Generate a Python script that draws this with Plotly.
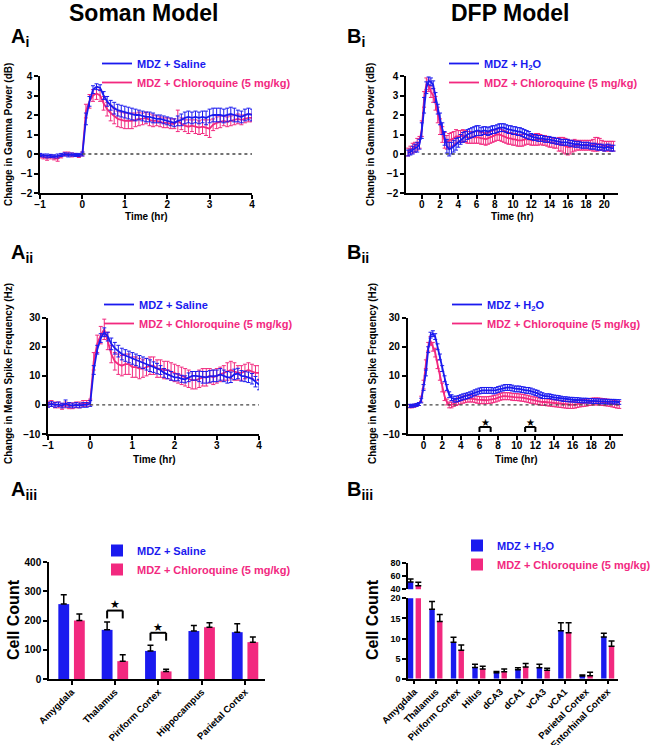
import plotly.graph_objects as go

# ---------------- data ----------------
soman_min = [-60, -55, -50, -45, -40, -35, -30, -25, -20, -15, -10, -5,
             0, 5, 10, 15, 20, 25, 30, 35, 40, 45, 50, 55,
             60, 65, 70, 75, 80, 85, 90, 95, 100, 105, 110, 115,
             120, 125, 130, 135, 140, 145, 150, 155, 160, 165, 170, 175,
             180, 185, 190, 195, 200, 205, 210, 215, 220, 225, 230, 235,
             240]

gamma_saline = [-0.05, -0.08, -0.10, -0.10, -0.12, -0.10, -0.05, -0.02, -0.05, -0.03, -0.05, -0.05,
                0.00, 1.80, 2.70, 3.30, 3.45, 3.40, 3.00, 2.70, 2.50, 2.35, 2.25, 2.20,
                2.15, 2.10, 2.05, 2.00, 2.00, 1.95, 1.90, 1.90, 1.85, 1.80, 1.80, 1.75,
                1.70, 1.65, 1.60, 1.70, 1.75, 1.85, 1.90, 1.85, 1.90, 1.85, 1.90, 1.85,
                1.95, 2.00, 2.00, 2.00, 1.95, 2.00, 2.05, 2.00, 1.95, 1.90, 2.00, 2.05,
                2.00]
gamma_saline_err = [0.08, 0.08, 0.10, 0.08, 0.08, 0.10, 0.08, 0.08, 0.10, 0.08, 0.08, 0.08,
                    0.10, 0.30, 0.25, 0.20, 0.15, 0.15, 0.20, 0.25, 0.25, 0.30, 0.30, 0.30,
                    0.30, 0.30, 0.30, 0.30, 0.25, 0.25, 0.25, 0.25, 0.25, 0.20, 0.20, 0.20,
                    0.20, 0.20, 0.20, 0.25, 0.30, 0.30, 0.30, 0.30, 0.30, 0.30, 0.30, 0.35,
                    0.35, 0.35, 0.35, 0.35, 0.35, 0.35, 0.35, 0.35, 0.30, 0.30, 0.30, 0.30,
                    0.30]
gamma_chloro = [-0.10, -0.15, -0.20, -0.15, -0.20, -0.25, -0.10, 0.00, 0.00, -0.05, -0.05, -0.10,
                0.00, 2.20, 2.70, 3.00, 3.10, 3.00, 2.60, 2.30, 2.10, 1.95, 1.80, 1.75,
                1.70, 1.70, 1.70, 1.75, 1.80, 1.80, 1.85, 1.75, 1.70, 1.70, 1.65, 1.60,
                1.60, 1.55, 1.55, 1.70, 1.55, 1.45, 1.40, 1.45, 1.40, 1.35, 1.40, 1.35,
                1.30, 1.50, 1.60, 1.65, 1.70, 1.65, 1.70, 1.75, 1.80, 1.75, 1.80, 1.85,
                1.85]
gamma_chloro_err = [0.10, 0.10, 0.12, 0.10, 0.10, 0.12, 0.10, 0.10, 0.10, 0.10, 0.08, 0.08,
                    0.10, 0.35, 0.35, 0.30, 0.30, 0.30, 0.35, 0.35, 0.40, 0.40, 0.40, 0.40,
                    0.40, 0.40, 0.40, 0.35, 0.35, 0.30, 0.30, 0.30, 0.30, 0.25, 0.25, 0.25,
                    0.25, 0.25, 0.25, 0.55, 0.30, 0.30, 0.35, 0.30, 0.35, 0.35, 0.35, 0.40,
                    0.45, 0.30, 0.30, 0.30, 0.25, 0.25, 0.25, 0.25, 0.25, 0.25, 0.20, 0.20,
                    0.20]

spike_saline = [0.0, 0.3, 0.0, 0.2, -0.2, 0.5, 0.0, -0.2, 0.0, -0.2, 0.0, 0.0,
                0.5, 12.0, 19.0, 23.0, 25.0, 23.5, 21.0, 19.5, 18.5, 17.5, 17.0, 16.5,
                16.0, 15.5, 15.0, 14.5, 14.0, 13.5, 13.0, 12.5, 12.0, 11.0, 10.5, 10.0,
                9.5, 9.5, 9.0, 8.8, 9.5, 10.0, 10.0, 9.8, 9.5, 9.5, 9.8, 10.0,
                10.0, 10.5, 10.0, 9.5, 9.5, 10.5, 10.8, 10.0, 9.8, 9.5, 9.0, 8.0,
                7.0]
spike_saline_err = [0.8, 0.8, 0.8, 0.8, 0.8, 1.2, 0.8, 0.8, 0.8, 0.8, 0.8, 0.8,
                    1.0, 1.5, 1.5, 1.5, 1.5, 1.5, 2.0, 2.0, 2.0, 2.0, 2.0, 2.0,
                    2.0, 2.0, 2.0, 2.0, 2.0, 2.0, 1.8, 1.8, 1.5, 1.5, 1.5, 1.5,
                    1.2, 1.2, 1.2, 1.2, 1.5, 1.5, 1.5, 1.8, 2.0, 2.0, 2.0, 2.0,
                    2.0, 2.0, 2.0, 2.0, 1.8, 1.8, 1.8, 1.8, 1.8, 1.8, 1.8, 1.8,
                    1.8]
spike_chloro = [0.3, 0.5, 0.0, 0.0, -0.5, 0.0, -0.3, -0.3, 0.0, 0.0, 0.5, 0.5,
                1.0, 15.0, 21.0, 24.0, 26.0, 22.0, 17.5, 15.0, 14.0, 13.5, 14.0, 14.0,
                13.0, 13.0, 12.5, 12.5, 13.0, 13.5, 13.5, 12.5, 12.5, 12.0, 12.0, 11.5,
                11.0, 10.5, 10.0, 9.5, 9.0, 8.5, 8.5, 9.0, 9.5, 9.5, 10.0, 9.5,
                10.0, 10.5, 11.0, 11.5, 12.0, 11.5, 11.0, 11.0, 11.5, 12.0, 11.5, 11.0,
                11.0]
spike_chloro_err = [1.0, 1.0, 1.0, 1.0, 1.0, 1.0, 1.0, 1.0, 1.0, 1.0, 1.0, 1.0,
                    1.0, 3.0, 3.0, 3.0, 3.5, 3.0, 3.0, 3.0, 3.5, 3.5, 3.5, 3.5,
                    3.5, 3.5, 3.5, 3.0, 3.0, 3.0, 3.0, 3.0, 3.0, 3.0, 3.0, 3.0,
                    3.0, 3.0, 3.0, 3.0, 3.0, 3.0, 3.0, 3.0, 3.0, 3.0, 2.5, 2.5,
                    2.5, 2.5, 2.5, 3.0, 3.0, 3.0, 2.5, 2.5, 2.5, 2.5, 2.5, 2.5,
                    2.5]

dfp_hr = [-1.5, -1.25, -1, -0.75, -0.5, -0.25, 0, 0.25, 0.5, 0.75,
          1, 1.25, 1.5, 1.75, 2, 2.25, 2.5, 2.75, 3, 3.25,
          3.5, 3.75, 4, 4.25, 4.5, 4.75, 5, 5.25, 5.5, 5.75,
          6, 6.25, 6.5, 6.75, 7, 7.25, 7.5, 7.75, 8, 8.25,
          8.5, 8.75, 9, 9.25, 9.5, 9.75, 10, 10.25, 10.5, 10.75,
          11, 11.25, 11.5, 11.75, 12, 12.25, 12.5, 12.75, 13, 13.25,
          13.5, 13.75, 14, 14.25, 14.5, 14.75, 15, 15.25, 15.5, 15.75,
          16, 16.25, 16.5, 16.75, 17, 17.25, 17.5, 17.75, 18, 18.25,
          18.5, 18.75, 19, 19.25, 19.5, 19.75, 20, 20.25, 20.5, 20.75,
          21]

gamma_h2o = [0.05, 0.10, 0.20, 0.30, 0.35, 0.50, 1.20, 2.50, 3.40, 3.75,
             3.70, 3.55, 2.90, 2.30, 1.80, 1.30, 0.80, 0.40, 0.25, 0.30,
             0.40, 0.50, 0.60, 0.75, 0.85, 0.90, 1.00, 1.05, 1.10, 1.15,
             1.20, 1.20, 1.15, 1.20, 1.20, 1.15, 1.20, 1.25, 1.25, 1.30,
             1.35, 1.35, 1.35, 1.30, 1.25, 1.25, 1.20, 1.20, 1.15, 1.15,
             1.10, 1.05, 1.00, 0.95, 0.90, 0.85, 0.85, 0.80, 0.80, 0.80,
             0.75, 0.75, 0.75, 0.70, 0.70, 0.65, 0.65, 0.60, 0.60, 0.60,
             0.60, 0.55, 0.55, 0.50, 0.50, 0.50, 0.45, 0.45, 0.45, 0.45,
             0.40, 0.40, 0.40, 0.35, 0.35, 0.35, 0.30, 0.35, 0.35, 0.30,
             0.30]
gamma_h2o_err = [0.15, 0.15, 0.20, 0.20, 0.25, 0.25, 0.40, 0.40, 0.30, 0.20,
                 0.20, 0.20, 0.25, 0.25, 0.30, 0.30, 0.35, 0.35, 0.35, 0.30,
                 0.30, 0.30, 0.25, 0.25, 0.25, 0.25, 0.25, 0.25, 0.25, 0.25,
                 0.25, 0.25, 0.20, 0.20, 0.20, 0.20, 0.20, 0.20, 0.20, 0.20,
                 0.20, 0.20, 0.20, 0.20, 0.20, 0.20, 0.20, 0.20, 0.20, 0.20,
                 0.20, 0.20, 0.20, 0.20, 0.15, 0.15, 0.15, 0.15, 0.15, 0.15,
                 0.15, 0.15, 0.15, 0.15, 0.15, 0.15, 0.15, 0.15, 0.15, 0.15,
                 0.15, 0.15, 0.15, 0.15, 0.15, 0.15, 0.15, 0.15, 0.15, 0.15,
                 0.15, 0.15, 0.15, 0.15, 0.15, 0.15, 0.15, 0.15, 0.15, 0.15,
                 0.15]
gamma_cq_dfp = [0.10, 0.20, 0.30, 0.35, 0.50, 0.60, 1.30, 2.80, 3.60, 3.50,
                3.20, 3.00, 2.60, 2.00, 1.40, 1.00, 0.70, 0.60, 0.70, 0.75,
                0.80, 0.90, 0.90, 0.90, 0.95, 0.90, 0.85, 0.85, 0.85, 0.85,
                0.85, 0.85, 0.80, 0.80, 0.75, 0.80, 0.85, 0.90, 0.95, 1.00,
                1.00, 0.95, 0.90, 0.85, 0.80, 0.80, 0.75, 0.75, 0.70, 0.70,
                0.70, 0.75, 0.75, 0.75, 0.70, 0.70, 0.75, 0.75, 0.75, 0.70,
                0.70, 0.65, 0.60, 0.60, 0.55, 0.55, 0.50, 0.50, 0.45, 0.40,
                0.35, 0.35, 0.40, 0.45, 0.45, 0.45, 0.45, 0.45, 0.45, 0.45,
                0.45, 0.45, 0.50, 0.50, 0.50, 0.45, 0.40, 0.40, 0.40, 0.40,
                0.40]
gamma_cq_dfp_err = [0.20, 0.20, 0.25, 0.25, 0.30, 0.30, 0.40, 0.40, 0.30, 0.30,
                    0.30, 0.35, 0.35, 0.40, 0.40, 0.40, 0.40, 0.35, 0.35, 0.35,
                    0.35, 0.35, 0.30, 0.30, 0.30, 0.30, 0.30, 0.30, 0.30, 0.30,
                    0.30, 0.30, 0.30, 0.30, 0.30, 0.30, 0.30, 0.30, 0.30, 0.30,
                    0.30, 0.30, 0.30, 0.30, 0.30, 0.30, 0.30, 0.30, 0.30, 0.30,
                    0.30, 0.30, 0.25, 0.25, 0.25, 0.25, 0.30, 0.30, 0.25, 0.25,
                    0.25, 0.25, 0.25, 0.25, 0.25, 0.25, 0.35, 0.35, 0.40, 0.40,
                    0.40, 0.35, 0.30, 0.30, 0.25, 0.25, 0.25, 0.25, 0.25, 0.25,
                    0.25, 0.30, 0.35, 0.35, 0.30, 0.25, 0.25, 0.25, 0.25, 0.25,
                    0.25]

spike_h2o = [-0.3, -0.3, -0.2, 0.0, 0.3, 1.5, 6.0, 11.0, 19.0, 24.0,
             24.5, 23.5, 20.0, 16.5, 12.5, 9.0, 6.0, 3.5, 2.5, 2.0,
             2.0, 2.2, 2.5, 2.8, 3.0, 3.2, 3.5, 3.8, 4.2, 4.5,
             4.8, 5.0, 5.0, 5.0, 5.0, 5.0, 4.8, 5.0, 5.3, 5.5,
             5.8, 6.0, 6.0, 6.0, 5.8, 5.5, 5.5, 5.5, 5.3, 5.2,
             5.0, 5.0, 4.8, 4.5, 4.2, 4.0, 3.5, 3.2, 3.0, 3.0,
             3.0, 2.8, 2.6, 2.5, 2.4, 2.2, 2.0, 2.0, 1.9, 1.8,
             1.8, 1.7, 1.7, 1.6, 1.5, 1.5, 1.5, 1.4, 1.4, 1.3,
             1.3, 1.3, 1.2, 1.2, 1.2, 1.1, 1.1, 1.1, 1.1, 1.0,
             1.0]
spike_h2o_err = [0.5, 0.5, 0.5, 0.5, 0.5, 0.8, 1.0, 1.0, 1.0, 1.0,
                 1.0, 1.0, 1.0, 1.0, 1.0, 1.0, 1.0, 1.0, 1.0, 1.0,
                 1.0, 1.0, 1.0, 1.0, 1.0, 1.0, 1.0, 1.0, 1.0, 1.0,
                 1.0, 1.0, 1.0, 1.0, 1.0, 1.0, 1.0, 1.0, 1.0, 1.0,
                 1.0, 1.0, 1.0, 1.0, 1.0, 1.0, 1.0, 1.0, 1.0, 1.0,
                 1.0, 1.0, 1.0, 1.0, 1.0, 1.0, 1.0, 1.0, 0.8, 0.8,
                 0.8, 0.8, 0.8, 0.8, 0.8, 0.8, 0.8, 0.8, 0.8, 0.8,
                 0.8, 0.8, 0.8, 0.8, 0.8, 0.8, 0.8, 0.8, 0.8, 0.8,
                 0.8, 0.8, 0.8, 0.8, 0.8, 0.8, 0.8, 0.8, 0.8, 0.8,
                 0.8]
spike_cq_dfp = [-0.5, -0.5, -0.3, 0.0, 0.3, 2.0, 7.0, 14.0, 20.0, 22.0,
                20.0, 18.0, 14.0, 10.0, 6.0, 3.0, 1.0, 0.0, 0.0, 0.5,
                1.0, 1.3, 1.5, 1.8, 2.0, 2.2, 2.2, 2.2, 2.0, 1.8,
                1.7, 1.6, 1.6, 1.6, 1.7, 1.8, 2.0, 2.2, 2.5, 2.8,
                3.0, 3.0, 3.0, 3.0, 2.8, 2.7, 2.7, 2.6, 2.5, 2.4,
                2.2, 2.0, 1.8, 1.6, 1.5, 1.3, 1.2, 1.0, 1.0, 0.9,
                0.8, 0.7, 0.6, 0.5, 0.4, 0.3, 0.2, 0.1, 0.0, 0.0,
                0.0, 0.1, 0.3, 0.5, 0.6, 0.7, 0.8, 1.0, 1.1, 1.2,
                1.2, 1.2, 1.1, 1.0, 0.9, 0.8, 0.7, 0.5, 0.3, 0.1,
                0.0]
spike_cq_dfp_err = [0.5, 0.5, 0.5, 0.5, 0.5, 1.0, 1.5, 1.5, 1.5, 1.5,
                    1.5, 1.5, 1.5, 1.5, 1.5, 1.5, 1.0, 1.0, 1.0, 1.0,
                    1.2, 1.2, 1.2, 1.2, 1.2, 1.2, 1.2, 1.2, 1.2, 1.2,
                    1.2, 1.2, 1.2, 1.2, 1.2, 1.2, 1.2, 1.2, 1.2, 1.2,
                    1.2, 1.2, 1.2, 1.2, 1.2, 1.2, 1.2, 1.2, 1.2, 1.2,
                    1.2, 1.2, 1.2, 1.2, 1.2, 1.2, 1.2, 1.2, 1.2, 1.2,
                    1.2, 1.2, 1.2, 1.2, 1.2, 1.2, 1.2, 1.2, 1.2, 1.2,
                    1.2, 1.2, 1.2, 1.2, 1.2, 1.2, 1.2, 1.2, 1.2, 1.2,
                    1.2, 1.2, 1.2, 1.2, 1.2, 1.2, 1.2, 1.2, 1.2, 1.2,
                    1.2]

regions_soman = ["Amygdala", "Thalamus", "Piriform Cortex", "Hippocampus", "Parietal Cortex"]
cells_saline = [256, 168, 96, 164, 160]
cells_saline_err = [32, 27, 19, 19, 29]
cells_cq_soman = [200, 61, 26, 177, 126]
cells_cq_soman_err = [22, 22, 7, 15, 18]

regions_dfp = ["Amygdala", "Thalamus", "Piriform Cortex", "Hilus", "dCA3", "dCA1",
               "vCA3", "vCA1", "Parietal Cortex", "Entorhinal Cortex"]
cells_h2o = [51, 17.3, 9.05, 2.8, 1.5, 2.2, 2.7, 11.9, 0.66, 10.4]
cells_h2o_err = [4.5, 1.9, 1.25, 0.8, 0.3, 0.5, 0.9, 2.0, 0.25, 0.9]
cells_cq_dfp = [45.5, 14.2, 7.1, 2.4, 1.7, 2.9, 2.1, 11.4, 0.75, 8.1]
cells_cq_dfp_err = [5.0, 1.8, 1.3, 0.7, 0.7, 0.9, 0.5, 2.5, 0.85, 1.3]

# significance markers
sig_soman = [1, 2]                            # category indexes (Thalamus, Piriform Cortex)
sig_dfp_windows = [(6.0, 7.2), (10.9, 12.0)]  # hours

# ---------------- style ----------------
W, H = 662, 745
BLUE = "#1a1aef"
PINK = "#f2297f"
FONT = "Liberation Sans"


def fx(p):
    return p / W


def fy(p):
    return 1 - p / H


def lbl(color, text):
    return f"<span style='color:{color}'>{text}</span>"


soman_hr = [m / 60 for m in soman_min]

fig = go.Figure()


def ts(x, y, e, color, name, xa, ya, leg, rank):
    fig.add_trace(go.Scatter(
        x=x, y=y, mode="lines", name=name,
        line=dict(color=color, width=1.8),
        error_y=dict(type="data", array=e, visible=True, color=color, thickness=1, width=2),
        xaxis=xa, yaxis=ya, legend=leg, legendrank=rank))


# Ai
ts(soman_hr, gamma_chloro, gamma_chloro_err, PINK, lbl(PINK, "MDZ + Chloroquine (5 mg/kg)"), "x", "y", "legend", 2)
ts(soman_hr, gamma_saline, gamma_saline_err, BLUE, lbl(BLUE, "MDZ + Saline"), "x", "y", "legend", 1)
# Bi
ts(dfp_hr, gamma_cq_dfp, gamma_cq_dfp_err, PINK, lbl(PINK, "MDZ + Chloroquine (5 mg/kg)"), "x2", "y2", "legend2", 2)
ts(dfp_hr, gamma_h2o, gamma_h2o_err, BLUE, lbl(BLUE, "MDZ + H<sub>2</sub>O"), "x2", "y2", "legend2", 1)
# Aii
ts(soman_hr, spike_chloro, spike_chloro_err, PINK, lbl(PINK, "MDZ + Chloroquine (5 mg/kg)"), "x3", "y3", "legend3", 2)
ts(soman_hr, spike_saline, spike_saline_err, BLUE, lbl(BLUE, "MDZ + Saline"), "x3", "y3", "legend3", 1)
# Bii
ts(dfp_hr, spike_cq_dfp, spike_cq_dfp_err, PINK, lbl(PINK, "MDZ + Chloroquine (5 mg/kg)"), "x4", "y4", "legend4", 2)
ts(dfp_hr, spike_h2o, spike_h2o_err, BLUE, lbl(BLUE, "MDZ + H<sub>2</sub>O"), "x4", "y4", "legend4", 1)


def bars(x, y, e, color, name, xa, ya, leg, off, show=True):
    fig.add_trace(go.Bar(
        x=x, y=y, name=name, marker=dict(color=color, line=dict(width=0)),
        offset=off, width=0.25,
        error_y=dict(type="data", symmetric=False, array=e, arrayminus=[0] * len(e),
                     color="black", thickness=1.5, width=3),
        xaxis=xa, yaxis=ya, legend=leg, showlegend=show))


bars(regions_soman, cells_saline, cells_saline_err, BLUE, lbl(BLUE, "MDZ + Saline"), "x5", "y5", "legend5", -0.305)
bars(regions_soman, cells_cq_soman, cells_cq_soman_err, PINK, lbl(PINK, "MDZ + Chloroquine (5 mg/kg)"), "x5", "y5", "legend5", 0.055)
bars(regions_dfp, cells_h2o, cells_h2o_err, BLUE, lbl(BLUE, "MDZ + H<sub>2</sub>O"), "x6", "y6", "legend6", -0.305)
bars(regions_dfp, cells_cq_dfp, cells_cq_dfp_err, PINK, lbl(PINK, "MDZ + Chloroquine (5 mg/kg)"), "x6", "y6", "legend6", 0.055)
bars(regions_dfp, cells_h2o, cells_h2o_err, BLUE, "MDZ + H2O", "x7", "y7", "legend6", -0.305, show=False)
bars(regions_dfp, cells_cq_dfp, cells_cq_dfp_err, PINK, "MDZ + Chloroquine", "x7", "y7", "legend6", 0.055, show=False)

tickfont = dict(family=FONT, size=10, color="black", weight="bold")
ax_common = dict(showline=True, linecolor="black", linewidth=1.5, ticks="outside",
                 ticklen=4, tickwidth=1.5, tickcolor="black", showgrid=False,
                 zeroline=False, tickfont=tickfont, automargin=False)
ts_x = dict(ax_common, ticklabelstandoff=-3)
bar_x = dict(ax_common, ticklabelstandoff=-2)
bar_x["tickfont"] = dict(family=FONT, size=9.5, color="black", weight="bold")
brk_y = dict(ax_common)
brk_y["tickfont"] = dict(family=FONT, size=9, color="black", weight="bold")

layout = dict(
    width=W, height=H, margin=dict(l=0, r=0, t=0, b=0, autoexpand=False),
    paper_bgcolor="white", plot_bgcolor="white", showlegend=True,
    barmode="overlay",
    xaxis=dict(domain=[fx(40), fx(252)], range=[-1, 4], tickvals=[-1, 0, 1, 2, 3, 4], anchor="y", **ts_x),
    yaxis=dict(domain=[fy(193), fy(76)], range=[-2, 4], tickvals=[-2, -1, 0, 1, 2, 3, 4], anchor="x", **ax_common),
    xaxis2=dict(domain=[fx(406), fx(618)], range=[-1.73, 21.5], tickvals=list(range(0, 21, 2)), anchor="y2", **ts_x),
    yaxis2=dict(domain=[fy(193), fy(76)], range=[-2, 4], tickvals=[-2, -1, 0, 1, 2, 3, 4], anchor="x2", **ax_common),
    xaxis3=dict(domain=[fx(48), fx(259)], range=[-1, 4], tickvals=[-1, 0, 1, 2, 3, 4], anchor="y3", **ts_x),
    yaxis3=dict(domain=[fy(434), fy(317.7)], range=[-10, 30], tickvals=[-10, 0, 10, 20, 30], anchor="x3", **ax_common),
    xaxis4=dict(domain=[fx(407.7), fx(623)], range=[-1.7, 21.4], tickvals=list(range(0, 21, 2)), anchor="y4", **ts_x),
    yaxis4=dict(domain=[fy(434), fy(317.7)], range=[-10, 30], tickvals=[-10, 0, 10, 20, 30], anchor="x4", **ax_common),
    xaxis5=dict(domain=[fx(49), fx(265)], range=[-0.52, 4.46], type="category", tickangle=-45,
                anchor="y5", **bar_x),
    yaxis5=dict(domain=[fy(679), fy(562)], range=[0, 400], tickvals=[0, 100, 200, 300, 400], anchor="x5", **ax_common),
    xaxis6=dict(domain=[fx(408), fx(618)], range=[-0.3, 9.48], type="category", tickangle=-45,
                anchor="y6", **bar_x),
    yaxis6=dict(domain=[fy(678.7), fy(598.3)], range=[0, 20], tickvals=[0, 5, 10, 15, 20], anchor="x6", **brk_y),
    xaxis7=dict(domain=[fx(408), fx(618)], range=[-0.3, 9.48], type="category", matches="x6",
                visible=False, anchor="y7", automargin=False),
    yaxis7=dict(domain=[fy(589.3), fy(562.7)], range=[40, 80], tickvals=[40, 60, 80], anchor="x7", **brk_y),
)

leg_common = dict(xanchor="left", yanchor="top", bgcolor="rgba(0,0,0,0)", borderwidth=0,
                  font=dict(family=FONT, size=11, weight="bold"), itemwidth=30,
                  tracegroupgap=0, traceorder="normal", itemclick=False)
layout["legend"] = dict(x=fx(97), y=fy(49), **leg_common)
layout["legend2"] = dict(x=fx(444), y=fy(49), **leg_common)
layout["legend3"] = dict(x=fx(99), y=fy(290), **leg_common)
layout["legend4"] = dict(x=fx(447), y=fy(290), **leg_common)
layout["legend5"] = dict(x=fx(97), y=fy(536), **leg_common)
layout["legend6"] = dict(x=fx(457), y=fy(531), **leg_common)

fig.update_layout(**layout)

# dotted zero lines
for xa, ya, x1 in [("x", "y", 4), ("x2", "y2", 21), ("x3", "y3", 4), ("x4", "y4", 21)]:
    fig.add_shape(type="line", xref=xa, yref=ya, x0=0, x1=x1, y0=0, y1=0,
                  line=dict(color="#444444", width=1.3, dash="dot"))

# significance brackets - soman bars (top, leg bottom, star y)
brk_soman = [(234, 207, 256), (158, 131, 177)]
for i, (top, legy, stary) in zip(sig_soman, brk_soman):
    a, b = i - 0.18, i + 0.18
    for (x0, y0, x1, y1) in [(a, legy, a, top), (a, top, b, top), (b, top, b, legy)]:
        fig.add_shape(type="line", xref="x5", yref="y5", x0=x0, y0=y0, x1=x1, y1=y1,
                      line=dict(color="black", width=2))
    fig.add_annotation(x=i, y=stary, xref="x5", yref="y5", text="★", showarrow=False,
                       font=dict(family="DejaVu Sans", size=11, color="black"))

for (a, b) in sig_dfp_windows:
    top, legy = -7.6, -9.3
    for (x0, y0, x1, y1) in [(a, legy, a, top), (a, top, b, top), (b, top, b, legy)]:
        fig.add_shape(type="line", xref="x4", yref="y4", x0=x0, y0=y0, x1=x1, y1=y1,
                      line=dict(color="black", width=2))
    fig.add_annotation(x=(a + b) / 2, y=-6.0, xref="x4", yref="y4", text="★", showarrow=False,
                       font=dict(family="DejaVu Sans", size=10, color="black"))


def ann(x, y, text, size, angle=0, bold=True):
    fig.add_annotation(x=fx(x), y=fy(y), xref="paper", yref="paper", text=text,
                       showarrow=False, textangle=angle, xanchor="center", yanchor="middle",
                       font=dict(family=FONT, size=size, color="black",
                                 weight="bold" if bold else "normal"))


ann(144, 13, "Soman Model", 23)
ann(510, 13, "DFP Model", 23)
ann(20, 38, "A<sub>i</sub>", 20)
ann(356, 38, "B<sub>i</sub>", 20)
ann(22, 254, "A<sub>ii</sub>", 20)
ann(358, 254, "B<sub>ii</sub>", 20)
ann(24, 490, "A<sub>iii</sub>", 20)
ann(360, 490, "B<sub>iii</sub>", 20)

ann(9, 135, "Change in Gamma Power (dB)", 10, -90)
ann(371, 135, "Change in Gamma Power (dB)", 10, -90)
ann(8, 374, "Change in Mean Spike Frequency (Hz)", 10, -90)
ann(372, 374, "Change in Mean Spike Frequency (Hz)", 10, -90)
ann(146, 217, "Time (hr)", 10)
ann(512, 217, "Time (hr)", 10)
ann(154, 459, "Time (hr)", 10)
ann(516, 459, "Time (hr)", 10)
ann(13, 620, "Cell Count", 16, -90)
ann(372, 620, "Cell Count", 16, -90)

fig.write_html("out.html", config={"displayModeBar": False},
               post_script="document.body.style.margin='0px';")
